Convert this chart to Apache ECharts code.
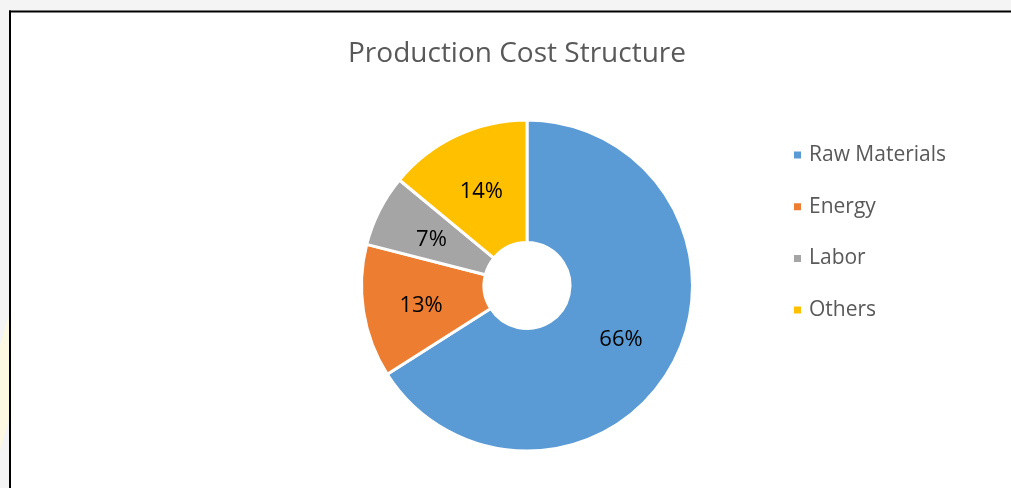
<!DOCTYPE html>
<html>
<head>
<meta charset="utf-8">
<script src="https://cdn.jsdelivr.net/npm/echarts@6/dist/echarts.min.js"></script>
<style>
  html, body { margin: 0; padding: 0; background: #f4f4f4; overflow: hidden; }
  #chart { width: 1011px; height: 488px; }
</style>
</head>
<body>
<div id="chart"></div>
<script>
// Cost components and their shares (percent)
const categories = ['Raw Materials', 'Energy', 'Labor', 'Others'];
const shares = [66, 13, 7, 14];
const colors = ['#5B9BD5', '#ED7D31', '#A5A5A5', '#FFC000'];

const FONT = '"Open Sans", sans-serif';

const chart = echarts.init(document.getElementById('chart'));

chart.setOption({
  animation: false,
  backgroundColor: '#f4f4f4',
  graphic: [
    // pale backdrop strip on the far left, outside the frame
    {
      type: 'polygon', z: -10, silent: true,
      shape: { points: [[0, 345], [9, 315], [9, 420], [0, 450]] },
      style: { fill: '#fdf8e2' }
    },
    // white chart area
    {
      type: 'rect', z: -6, silent: true,
      shape: { x: 10, y: 12, width: 1001, height: 476 },
      style: { fill: '#ffffff' }
    },
    // frame: left edge
    {
      type: 'line', z: -5, silent: true,
      shape: { x1: 10, y1: 10.5, x2: 10, y2: 488 },
      style: { stroke: '#000000', lineWidth: 2 }
    },
    // frame: top edge
    {
      type: 'line', z: -5, silent: true,
      shape: { x1: 9, y1: 11.5, x2: 1011, y2: 11.5 },
      style: { stroke: '#000000', lineWidth: 2 }
    }
  ],
  title: {
    text: 'Production Cost Structure',
    left: 512,
    textAlign: 'center',
    top: 35,
    textStyle: { fontFamily: FONT, fontSize: 28, fontWeight: 'normal', color: '#595959' }
  },
  legend: {
    orient: 'vertical',
    left: 792,
    top: 144,
    padding: 0,
    icon: 'rect',
    itemWidth: 9,
    itemHeight: 9,
    itemGap: 29.7,
    data: categories,
    textStyle: { fontFamily: FONT, fontSize: 21, color: '#595959', lineHeight: 22, padding: [0, 0, 0, 2] }
  },
  series: [{
    type: 'pie',
    center: [527, 285.5],
    radius: [43, 165.5],
    startAngle: 90,
    clockwise: true,
    avoidLabelOverlap: false,
    itemStyle: { borderColor: '#ffffff', borderWidth: 3 },
    label: {
      show: true,
      position: 'inside',
      formatter: p => p.value + '%',
      fontFamily: FONT,
      fontSize: 22,
      color: '#000000',
      offset: [0, 3]
    },
    labelLine: { show: false },
    emphasis: { disabled: true },
    data: categories.map((name, i) => ({
      name,
      value: shares[i],
      itemStyle: { color: colors[i] }
    }))
  }]
});
</script>
</body>
</html>
